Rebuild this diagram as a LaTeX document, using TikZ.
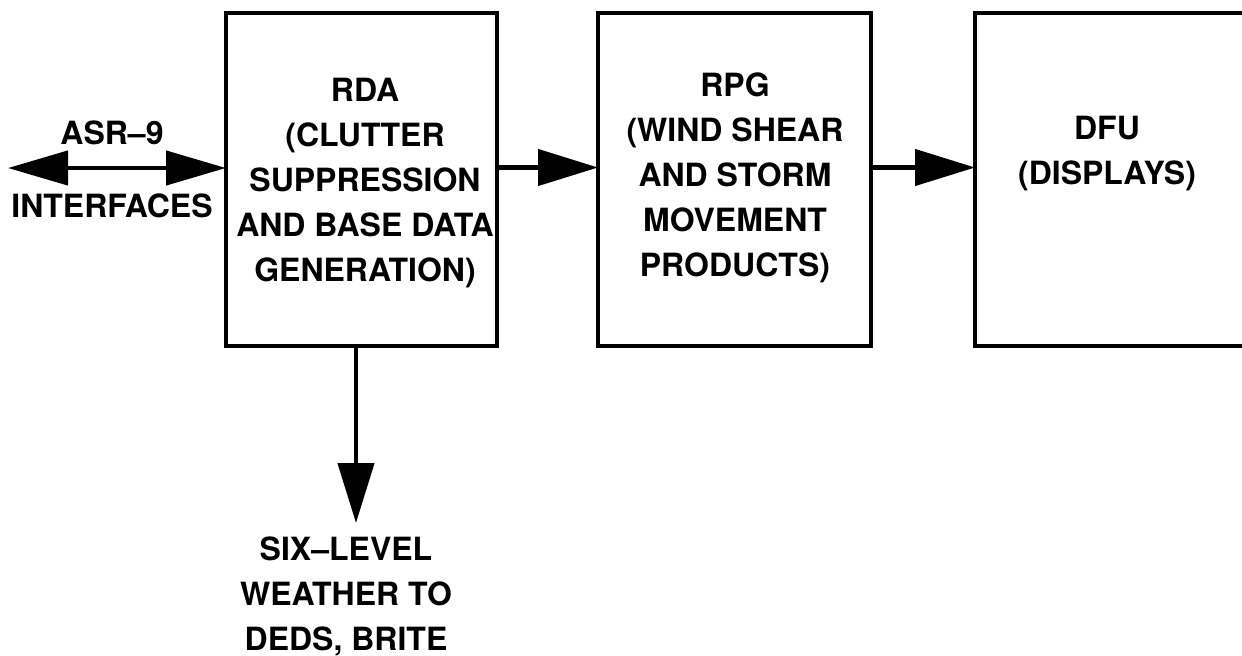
\documentclass[tikz,border=0pt]{standalone}
\usepackage{fontspec}
\setmainfont{TeX Gyre Heros}
\usetikzlibrary{arrows.meta}
\begin{document}
\begin{tikzpicture}[x=0.5pt,y=-0.5pt,
  box/.style={draw, line width=2pt, inner sep=0pt, outer sep=0pt},
  lbl/.style={font=\bfseries\fontsize{16}{22.5}\selectfont, align=center, inner sep=0pt},
  conn/.style={line width=2.2pt, -{Triangle[length=30pt,width=18pt]}},
  dconn/.style={line width=2.2pt, {Triangle[length=30pt,width=17pt]}-{Triangle[length=30pt,width=17pt]}}]
\useasboundingbox (0,0) rectangle (1242,655);
\clip (0,0) rectangle (1242,655);
\fill[white] (0,0) rectangle (1242,655);
% boxes
\node[box, minimum width=135.5pt, minimum height=166.5pt] (rda) at (361.5,179.5) {};
\node[box, minimum width=136.5pt, minimum height=166.5pt] (rpg) at (734.5,179.5) {};
\node[box, minimum width=162.5pt, minimum height=166.5pt] (dfu) at (1137.5,179.5) {};
% texts
\node[lbl] (rdat) at (365,183) {RDA\\(CLUTTER\\SUPPRESSION\\AND BASE DATA\\GENERATION)};
\node[lbl] (rpgt) at (735,178) {RPG\\(WIND SHEAR\\AND STORM\\MOVEMENT\\PRODUCTS)};
\node[lbl] (dfut) at (1107,154) {DFU\\(DISPLAYS)};
\node[lbl] (asrt) at (112,132.5) {ASR--9};
\node[lbl] (ift) at (112,206) {INTERFACES};
\node[lbl] (wxt) at (346,596) {SIX--LEVEL\\WEATHER TO\\DEDS, BRITE};
% connectors
\coordinate (asr) at (8,168);
\coordinate (wx) at (356,523);
\draw[dconn] (asr) -- ([yshift=5.75pt]rda.west);
\draw[conn] ([yshift=6pt]rda.east) -- ([yshift=6pt]rpg.west);
\draw[conn] ([yshift=6pt]rpg.east) -- ([yshift=6pt]dfu.west);
\draw[conn] ([xshift=-2.75pt]rda.south) -- (wx);
\end{tikzpicture}
\end{document}
